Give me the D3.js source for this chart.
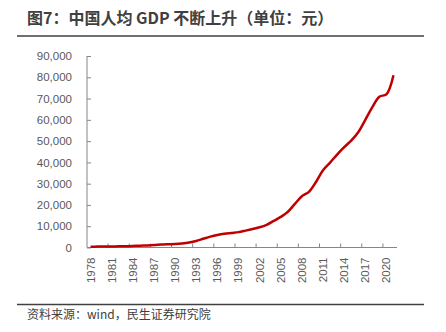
<!DOCTYPE html>
<html>
<head>
<meta charset="utf-8">
<script src="https://cdn.jsdelivr.net/npm/d3@7"></script>
<style>
  body { margin: 0; background: #fff; }
  svg { display: block; }
</style>
</head>
<body>
<svg id="chart" width="446" height="332"></svg>
<script>
// 人均GDP（元）
var years = ['1978','1979','1980','1981','1982','1983','1984','1985','1986','1987','1988','1989','1990','1991','1992','1993','1994','1995','1996','1997','1998','1999','2000','2001','2002','2003','2004','2005','2006','2007','2008','2009','2010','2011','2012','2013','2014','2015','2016','2017','2018','2019','2020','2021'];
var gdpPerCapita = [385,423,468,497,533,588,702,866,973,1123,1378,1536,1663,1912,2334,3027,4081,5091,5898,6481,6860,7229,7942,8717,9506,10666,12487,14368,16738,20494,24100,26180,30808,36302,39874,43684,47173,50237,54139,60014,66006,70892,72000,80976];
var yTicks = [0,10000,20000,30000,40000,50000,60000,70000,80000,90000];
var xLabelYears = years.filter(function (d, i) { return i % 3 === 0 });

var titleText = '图7：中国人均 GDP 不断上升（单位：元）';
var sourceText = '资料来源：wind，民生证券研究院';

var svg = d3.select('#chart');
var font = '"Noto Sans CJK SC", "Liberation Sans", sans-serif';

// title + rule
svg.append('text')
  .attr('x', 27).attr('y', 23.5)
  .attr('font-family', font)
  .attr('font-size', 16)
  .attr('font-weight', 'bold')
  .attr('fill', '#404040')
  .text(titleText);
svg.append('line')
  .attr('x1', 17).attr('x2', 424).attr('y1', 36).attr('y2', 36)
  .attr('stroke', '#404040').attr('stroke-width', 1.5);

// plot area
var pLeft = 87, pRight = 397, pTop = 56, pBottom = 247.5;

var x = d3.scaleBand().domain(years).range([pLeft, pRight]);
var y = d3.scaleLinear().domain([0, 90000]).range([pBottom, pTop]);

var axisColor = '#868686', labelColor = '#595959';

// y axis
var yAxis = svg.append('g')
  .attr('transform', 'translate(' + pLeft + ',0)')
  .call(d3.axisLeft(y).tickValues(yTicks).tickSize(-4).tickPadding(15)
    .tickFormat(d3.format(',')));
yAxis.select('.domain').attr('stroke', axisColor).attr('d', 'M0,' + pTop + 'V' + pBottom);
yAxis.selectAll('.tick line').attr('stroke', axisColor);
yAxis.selectAll('.tick text')
  .attr('fill', labelColor)
  .attr('font-family', '"Liberation Sans", Arial, sans-serif')
  .attr('font-size', 11.5);

// x axis: ticks between categories every 3 years
var xAxis = svg.append('g');
xAxis.append('line')
  .attr('x1', pLeft).attr('x2', pRight).attr('y1', pBottom).attr('y2', pBottom)
  .attr('stroke', axisColor);
xAxis.selectAll('line.tk')
  .data(xLabelYears.slice(1))
  .enter().append('line')
  .attr('class', 'tk')
  .attr('x1', function (d) { return x(d) }).attr('x2', function (d) { return x(d) })
  .attr('y1', pBottom).attr('y2', pBottom - 4)
  .attr('stroke', axisColor);
xAxis.selectAll('text')
  .data(xLabelYears)
  .enter().append('text')
  .attr('transform', function (d) {
    return 'translate(' + (x(d) + x.bandwidth() / 2 + 4) + ',' + (pBottom + 10) + ') rotate(-90)';
  })
  .attr('text-anchor', 'end')
  .attr('font-family', '"Liberation Sans", Arial, sans-serif')
  .attr('font-size', 11.5)
  .attr('fill', labelColor)
  .text(function (d) { return d });

// line
var line = d3.line()
  .x(function (d, i) { return x(years[i]) + x.bandwidth() / 2 })
  .y(function (d) { return y(d) })
  .curve(d3.curveCatmullRom.alpha(0.5));
svg.append('path')
  .datum(gdpPerCapita)
  .attr('d', line)
  .attr('fill', 'none')
  .attr('stroke', '#C00000')
  .attr('stroke-width', 2.5);

// bottom rule + source
svg.append('line')
  .attr('x1', 17).attr('x2', 424).attr('y1', 304.5).attr('y2', 304.5)
  .attr('stroke', '#404040').attr('stroke-width', 1.5);
svg.append('text')
  .attr('x', 27).attr('y', 319)
  .attr('font-family', font)
  .attr('font-size', 12)
  .attr('fill', '#404040')
  .text(sourceText);
</script>
</body>
</html>
